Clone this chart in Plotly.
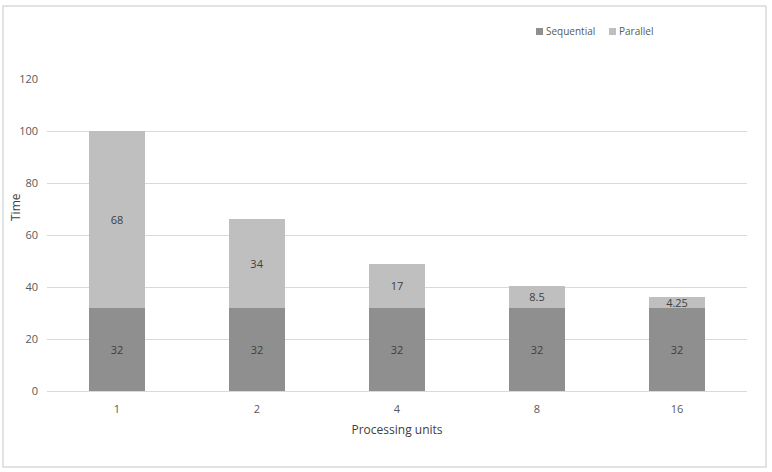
import plotly.graph_objects as go

categories = ["1", "2", "4", "8", "16"]
sequential = [32, 32, 32, 32, 32]
parallel = [68, 34, 17, 8.5, 4.25]
y_ticks = [0, 20, 40, 60, 80, 100, 120]
series_names = ["Sequential", "Parallel"]

FONT = "Open Sans"
TXT = "#595959"
SEQ_COLOR = "#8f8f8f"
PAR_COLOR = "#bfbfbf"

# plot-area geometry in pixels (for paper-coordinate conversions)
L, R, T, B = 47, 747, 79, 391
W, H = R - L, B - T


def px(x):
    return (x - L) / W


def py(y):
    return (B - y) / H


fig = go.Figure()
fig.add_trace(go.Bar(
    x=categories, y=sequential, name=series_names[0], showlegend=False,
    marker=dict(color=SEQ_COLOR, line=dict(width=0)),
    text=[str(v) for v in sequential], textposition="inside",
    insidetextanchor="middle", textangle=0, constraintext="none",
    textfont=dict(color="#404040", size=11, family=FONT),
))
fig.add_trace(go.Bar(
    x=categories, y=parallel, name=series_names[1], showlegend=False,
    marker=dict(color=PAR_COLOR, line=dict(width=0)),
    text=[str(v) for v in parallel], textposition="inside",
    insidetextanchor="middle", textangle=0, constraintext="none",
    textfont=dict(color="#404040", size=11, family=FONT),
))

shapes = [dict(type="rect", xref="paper", yref="paper",
               x0=px(3), x1=px(766), y0=py(467), y1=py(6),
               line=dict(color="#d9d9d9", width=1.5), fillcolor="rgba(0,0,0,0)",
               layer="below")]
annotations = [dict(text="Time", textangle=-90, xref="paper", yref="paper",
                    x=px(15), y=py(207), showarrow=False, xanchor="center", yanchor="middle",
                    font=dict(size=12, color="#404040", family=FONT))]
# legend (swatch + label)
for nm, col, sx in [(series_names[0], SEQ_COLOR, 536), (series_names[1], PAR_COLOR, 609)]:
    shapes.append(dict(type="rect", xref="paper", yref="paper",
                       x0=px(sx), x1=px(sx + 7), y0=py(35), y1=py(28),
                       line=dict(width=0), fillcolor=col))
    annotations.append(dict(text=nm, xref="paper", yref="paper", x=px(sx + 8), y=py(31),
                            xanchor="left", yanchor="middle", showarrow=False,
                            font=dict(size=10, color=TXT, family=FONT)))

fig.update_layout(
    barmode="stack",
    bargap=0.6,
    width=772, height=472,
    margin=dict(l=L, r=772 - R, t=T, b=472 - B),
    paper_bgcolor="white", plot_bgcolor="white",
    font=dict(family=FONT, size=11, color=TXT),
    showlegend=False,
    xaxis=dict(type="category", showgrid=False, showline=True, linecolor="#d9d9d9",
               linewidth=1, ticks="", ticklabelstandoff=8, automargin=False,
               title=dict(text="Processing units", standoff=10,
                          font=dict(size=12, color="#404040", family=FONT))),
    yaxis=dict(range=[0, 120], tickvals=y_ticks, showgrid=True, gridcolor="#d9d9d9",
               gridwidth=1, zeroline=False, showline=False, ticks="",
               ticklabelstandoff=8, automargin=False),
    shapes=shapes,
    annotations=annotations,
)

fig.write_html("out.html", config={"displayModeBar": False},
               post_script="document.body.style.margin='0';document.body.style.overflow='hidden';")
